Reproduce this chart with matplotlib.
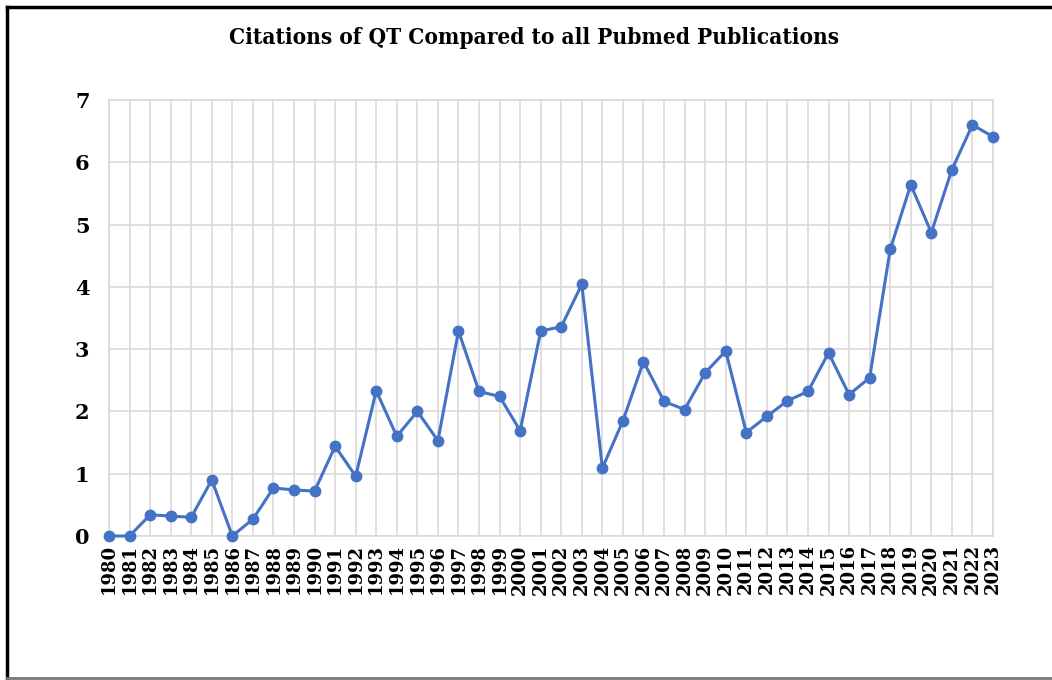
import matplotlib.pyplot as plt
import numpy as np
from matplotlib.lines import Line2D

years = list(range(1980, 2024))
ratio = [0, 0, 0.34, 0.32, 0.30, 0.90, 0, 0.27, 0.77, 0.74, 0.72,
         1.44, 0.96, 2.33, 1.60, 2.00, 1.53, 3.29, 2.32, 2.24, 1.69,
         3.29, 3.36, 4.04, 1.09, 1.85, 2.80, 2.16, 2.03, 2.62, 2.97,
         1.66, 1.92, 2.17, 2.32, 2.94, 2.27, 2.54, 4.60, 5.64, 4.87,
         5.88, 6.60, 6.41]
yticks = [0, 1, 2, 3, 4, 5, 6, 7]

fig = plt.figure(figsize=(10.52, 6.8), dpi=100)
ax = fig.add_axes([0.1036, 0.2118, 0.8403, 0.6412])

x = np.arange(len(years))
ax.plot(x, ratio, color='#4472C4', linewidth=2.2, marker='o', markersize=7.5,
        zorder=3, clip_on=False)

ax.set_xlim(0, len(years) - 1)
ax.set_ylim(0, 7)
ax.set_xticks(x)
ax.set_xticklabels([str(y) for y in years], rotation=90, fontfamily='DejaVu Serif',
                   fontweight='bold', fontsize=13)
ax.set_yticks(yticks)
ax.set_yticklabels([str(v) for v in yticks], fontfamily='DejaVu Serif',
                   fontweight='bold', fontsize=15)
ax.tick_params(axis='both', length=0)
ax.tick_params(axis='y', pad=14)
ax.tick_params(axis='x', pad=6)
ax.grid(True, color='#d9d9d9', linewidth=1.2)
ax.set_axisbelow(True)
for s in ax.spines.values():
    s.set_color('#d9d9d9')
    s.set_linewidth(1.2)

fig.text(0.508, 0.944, 'Citations of QT Compared to all Pubmed Publications',
         ha='center', va='center', fontfamily='DejaVu Serif', fontstretch='condensed',
         fontweight='bold', fontsize=16.2)

# outer frame
fig.add_artist(Line2D([0.0067, 0.0067], [0.003, 0.99], color='black', linewidth=2.5, transform=fig.transFigure))
fig.add_artist(Line2D([0.0067, 1.0], [0.99, 0.99], color='black', linewidth=2.5, transform=fig.transFigure))
fig.add_artist(Line2D([0.0067, 1.0], [0.003, 0.003], color='#777777', linewidth=2, transform=fig.transFigure))

fig.savefig('out.png', dpi=100)
